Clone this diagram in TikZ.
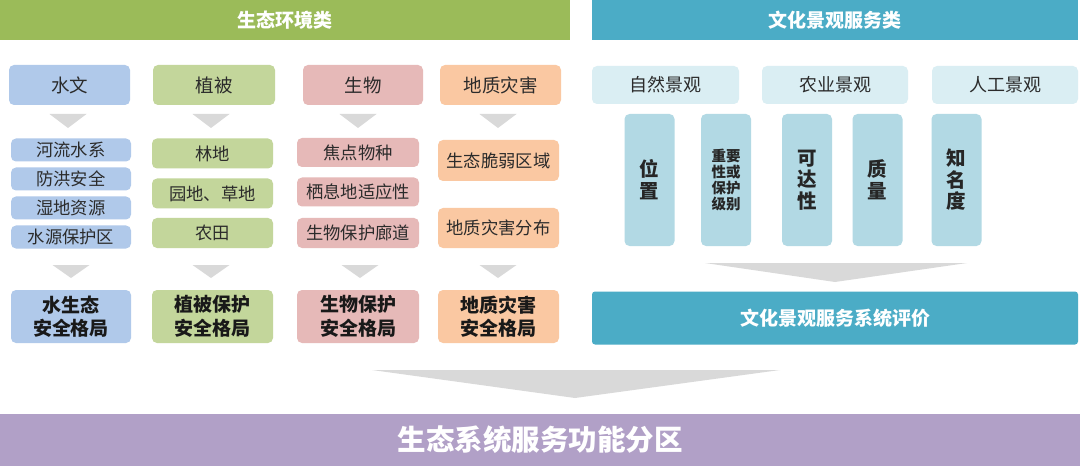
\documentclass[tikz,border=0pt]{standalone}
\usepackage{fontspec}
\setmainfont{Noto Sans CJK SC}
\usetikzlibrary{calc}
\definecolor{gband}{HTML}{9BBB59}
\definecolor{bband}{HTML}{4BACC6}
\definecolor{pband}{HTML}{B1A0C7}
\definecolor{cwater}{HTML}{B0C9EA}
\definecolor{cveg}{HTML}{C3D69B}
\definecolor{cbio}{HTML}{E6B9B8}
\definecolor{cgeo}{HTML}{FAC8A2}
\definecolor{clight}{HTML}{DAEEF3}
\definecolor{cvert}{HTML}{B2D9E4}
\definecolor{tri}{HTML}{D9D9D9}
\definecolor{txt}{HTML}{2B2B2B}
\tikzset{
  band/.style={rectangle, inner sep=0pt, text=white, font=\bfseries\fontsize{19}{23}\selectfont},
  box/.style={rectangle, rounded corners=5pt, inner sep=0pt, align=center, text=txt, font=\fontsize{18.5}{22}\selectfont},
  subbox/.style={box, font=\fontsize{17.3}{20}\selectfont},
  resbox/.style={box, text=black!90, font=\bfseries\fontsize{19}{23.5}\selectfont},
  vbox/.style={box, fill=cvert, minimum width=50pt, minimum height=132pt, text=black!85, font=\bfseries\fontsize{19.5}{22}\selectfont},
  sz/.style 2 args={minimum width=#1, minimum height=#2},
  arrowtri/.style={fill=tri, draw=none}
}
\begin{document}
\begin{tikzpicture}[x=1pt,y=-1pt]
\useasboundingbox (0,0) rectangle (1080,476);
\fill[white] (0,0) rectangle (1080,476);
% bands
\node[band, fill=gband, sz={570pt}{40pt}] (g0) at (285,20) {生态环境类};
\node[band, fill=bband, sz={486pt}{40pt}] (b0) at (835,20) {文化景观服务类};
% categories
\node[box, fill=cwater, sz={121pt}{40pt}] (c1) at (69.5,85) {水文};
\node[box, fill=cveg, sz={122pt}{40pt}] (c2) at (214,85) {植被};
\node[box, fill=cbio, sz={120pt}{40pt}] (c3) at (363,85) {生物};
\node[box, fill=cgeo, sz={121pt}{40pt}] (c4) at (500.5,85) {地质灾害};
% sub items water
\node[subbox, fill=cwater, sz={120pt}{23pt}] (s11) at (71,150) {河流水系};
\node[subbox, fill=cwater, sz={120pt}{23pt}] (s12) at (71,179) {防洪安全};
\node[subbox, fill=cwater, sz={120pt}{23pt}] (s13) at (71,208) {湿地资源};
\node[subbox, fill=cwater, sz={120pt}{23pt}] (s14) at (71,237) {水源保护区};
% vegetation
\node[subbox, fill=cveg, sz={121pt}{30pt}] (s21) at (212.5,153.5) {林地};
\node[subbox, fill=cveg, sz={121pt}{30pt}] (s22) at (212.5,193.5) {园地、草地};
\node[subbox, fill=cveg, sz={121pt}{30pt}] (s23) at (212.5,233) {农田};
% bio
\node[subbox, fill=cbio, sz={122pt}{29pt}] (s31) at (358,152.5) {焦点物种};
\node[subbox, fill=cbio, sz={122pt}{29pt}] (s32) at (358,192) {栖息地适应性};
\node[subbox, fill=cbio, sz={122pt}{30pt}] (s33) at (358,233) {生物保护廊道};
% geo
\node[subbox, fill=cgeo, sz={121pt}{41pt}] (s41) at (498.5,160.5) {生态脆弱区域};
\node[subbox, fill=cgeo, sz={121pt}{40pt}] (s42) at (498.5,228) {地质灾害分布};
% results
\node[resbox, fill=cwater, sz={120pt}{53pt}] (r1) at (71,316.5) {水生态\\安全格局};
\node[resbox, fill=cveg, sz={121pt}{53pt}] (r2) at (212.5,316.5) {植被保护\\安全格局};
\node[resbox, fill=cbio, sz={122pt}{53pt}] (r3) at (358,316.5) {生物保护\\安全格局};
\node[resbox, fill=cgeo, sz={121pt}{53pt}] (r4) at (498.5,316.5) {地质灾害\\安全格局};
% small triangles
\foreach \x in {68,211,358,498}{
  \fill[arrowtri] (\x-18.5,114) -- (\x+18.5,114) -- (\x,128) -- cycle;
}
\foreach \x in {71,211,360,498}{
  \fill[arrowtri] (\x-18.5,265) -- (\x+18.5,265) -- (\x,278) -- cycle;
}
% right side
\node[box, fill=clight, sz={147pt}{38pt}, font=\fontsize{18}{21}\selectfont] (l1) at (665.5,85) {自然景观};
\node[box, fill=clight, sz={146pt}{38pt}, font=\fontsize{18}{21}\selectfont] (l2) at (835,85) {农业景观};
\node[box, fill=clight, sz={146pt}{38pt}, font=\fontsize{18}{21}\selectfont] (l3) at (1005,85) {人工景观};
\node[vbox] (v1) at (649.5,180) {位\\置};
\node[vbox, font=\bfseries\fontsize{14.5}{16}\selectfont] (v2) at (726,180) {重要\\性或\\保护\\级别};
\node[vbox, font=\bfseries\fontsize{19.5}{21.5}\selectfont] (v3) at (807,180) {可\\达\\性};
\node[vbox] (v4) at (877.5,180) {质\\量};
\node[vbox, font=\bfseries\fontsize{19.5}{21.5}\selectfont] (v5) at (956.5,180) {知\\名\\度};
\fill[arrowtri] (705,263) -- (967,263) -- (835,282) -- cycle;
\node[band, fill=bband, rounded corners=3pt, sz={486pt}{53pt}] (ev) at (835,318) {文化景观服务系统评价};
% bottom
\fill[arrowtri] (372,370) -- (780,370) -- (575,398) -- cycle;
\node[band, fill=pband, sz={1080pt}{52pt}, font=\bfseries\fontsize{28.5}{33}\selectfont] (fz) at (540,440) {生态系统服务功能分区};
\end{tikzpicture}
\end{document}
